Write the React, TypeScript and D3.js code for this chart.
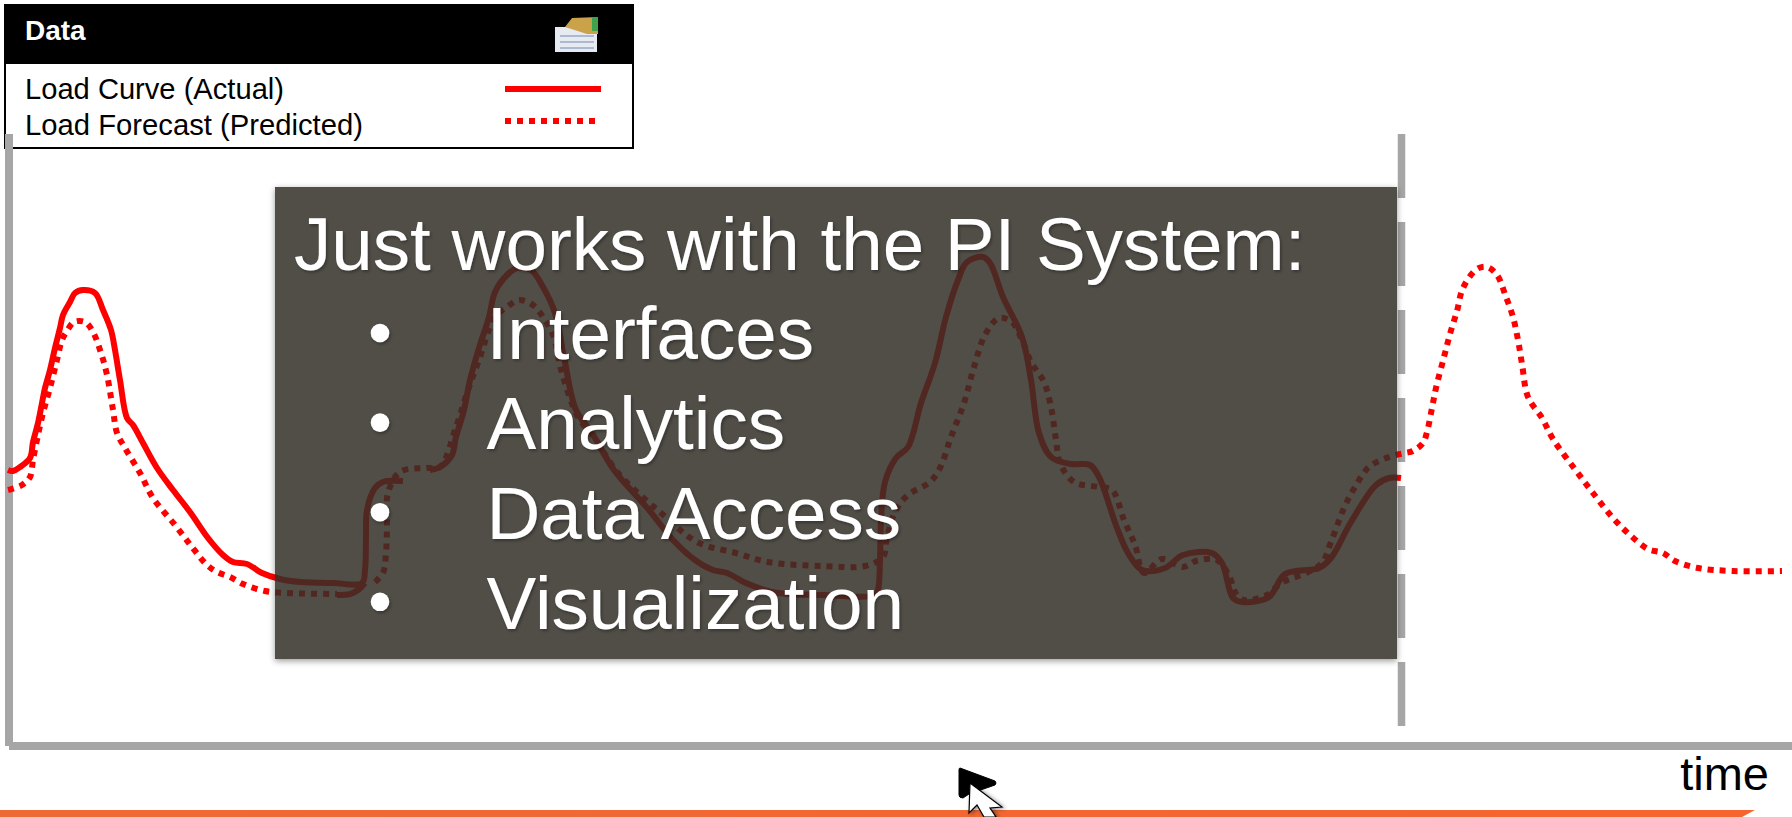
import React from "react";
import * as d3 from "d3";

const WIDTH = 1792;
const HEIGHT = 817;

// time, load — null marks a gap in the trace
type P = [number, number] | null;
const actualTime = [0,5,12,22,25,30,34,37,42,47,52,55,62,67,75,87,95,103,107,112,119,125,135,149,165,182,200,215,225,239,254,272,292,325,354,357,358,359,367,375,395,null,
  329,342,350,357,null,
  422,432,444,448,456,462,471,481,487,499,509,523,535,547,556,568,584,606,641,665,687,705,719,738,764,815,867,870,872,873,877,888,900,913,927,938,950,959,975,982,995,1014,1023,1031,1043,1063,1082,1091,1109,1120,1134,1157,1175,1204,1214,1225,1234,1261,1277,1311,1323,1343,1368,1381,1393];
const actualLoad = [272,271,275,284,300,319,339,354,372,394,414,427,440,449,452,449,432,412,392,362,324,317,299,274,252,230,204,187,180,178,169,163,160,159,159,172,205,232,254,260,261,null,
  147,148,152,159,null,
  272,275,287,305,332,362,394,425,450,467,474,472,455,429,385,332,309,272,232,202,182,172,169,159,150,147,147,152,182,222,260,284,295,339,379,425,462,480,485,479,445,405,362,309,285,278,277,265,214,189,172,174,187,189,179,144,140,145,168,174,184,220,257,264,264];
const forecastTime = [0,14,22,25,30,35,42,49,54,59,66,77,85,93,99,105,109,117,132,145,167,184,199,209,222,235,257,279,329,null,
  367,375,378,379,380,392,419,432,448,460,471,487,499,511,525,535,545,554,570,586,610,653,689,728,760,815,857,875,879,888,900,922,932,943,956,966,977,991,1004,1014,1023,1036,1043,1048,1052,1066,1091,1104,1116,1127,1136,1154,1175,1188,1209,1222,1227,1236,1259,1273,1298,1314,1323,1336,1347,1361,1381,1397,1405,1415,1419,1424,1428,1436,1442,1449,1455,1469,1479,1489,1498,1505,1510,1514,1520,1534,1545,1566,1585,1605,1622,1640,1655,1667,1690,1725,1774];
const forecastLoad = [252,257,265,282,307,329,354,382,402,411,420,420,410,389,367,332,309,294,269,244,217,195,177,170,165,158,151,149,148,null,
  160,169,189,215,249,270,274,275,315,352,382,425,435,442,437,425,407,369,325,305,269,229,200,189,180,176,176,185,205,232,247,260,274,305,339,375,407,424,420,402,380,360,335,302,279,260,255,252,222,197,169,183,175,181,182,164,150,142,147,159,169,179,200,234,255,275,285,289,291,299,310,334,354,385,408,431,454,473,475,467,445,425,402,378,345,324,303,274,249,224,207,193,189,181,174,171,171];

const legendLabels = ["Load Curve (Actual)", "Load Forecast (Predicted)"];
const panelTitle = "Just works with the PI System:";
const panelItems = ["Interfaces", "Analytics", "Data Access", "Visualization"];

const zip = (ts: (number | null)[], ls: (number | null)[]): P[] =>
  ts.map((t, i) => (t === null || ls[i] === null ? null : [t, ls[i] as number]));

const x = d3.scaleLinear().domain([0, 1784]).range([8, 1792]);
const y = d3.scaleLinear().domain([0, 608]).range([742, 134]);
const line = d3
  .line<P>()
  .defined((d) => d !== null)
  .x((d) => x((d as [number, number])[0]))
  .y((d) => y((d as [number, number])[1]))
  .curve(d3.curveCatmullRom.alpha(0.5));

const FONT = "'Liberation Sans', Arial, sans-serif";
const GREY = "#a6a6a6";
const RED = "#ff0000";

export default function App() {
  return (
    <svg
      width={WIDTH}
      height={HEIGHT}
      viewBox={`0 0 ${WIDTH} ${HEIGHT}`}
      style={{ position: "fixed", left: 0, top: 0, background: "#fff", display: "block" }}
    >
      <defs>
        <filter id="txt" x="-5%" y="-20%" width="110%" height="140%">
          <feDropShadow dx="1.5" dy="2" stdDeviation="1.5" floodColor="#000" floodOpacity="0.3" />
        </filter>
        <filter id="blur" x="-5%" y="-5%" width="110%" height="110%">
          <feGaussianBlur stdDeviation="3" />
        </filter>
        <clipPath id="outsidePanel">
          <path clipRule="evenodd" d="M0,0H1792V817H0Z M275,187H1397V659H275Z" />
        </clipPath>
        <filter id="cur" x="-30%" y="-30%" width="160%" height="160%">
          <feDropShadow dx="2" dy="1" stdDeviation="2" floodColor="#000" floodOpacity="0.45" />
        </filter>
        <linearGradient id="orange" x1="0" x2="1" y1="0" y2="0">
          <stop offset="0" stopColor="#ee6a35" />
          <stop offset="1" stopColor="#f56530" />
        </linearGradient>
      </defs>

      {/* legend box */}
      <rect x={5} y={5} width={628} height={143} fill="#fff" stroke="#000" strokeWidth={2} />
      <rect x={5} y={4} width={629} height={60} fill="#000" />
      <text x={25} y={40} fontFamily={FONT} fontWeight={700} fontSize={28} fill="#fff">Data</text>
      <g>
        <rect x={555} y={27} width={42} height={25} fill="#e6ebf2" />
        <polygon points="565,27 572,18 598,17 598,34 587,34" fill="#c9a24a" />
        <rect x={592} y={17} width={6} height={14} fill="#3fa34d" />
        <rect x={560} y={35} width={34} height={2} fill="#aeb9cf" />
        <rect x={560} y={41} width={34} height={2} fill="#aeb9cf" />
        <rect x={560} y={47} width={34} height={2} fill="#aeb9cf" />
      </g>
      <text x={25} y={99} fontFamily={FONT} fontSize={29} fill="#000" textLength={259} lengthAdjust="spacingAndGlyphs">{legendLabels[0]}</text>
      <text x={25} y={135} fontFamily={FONT} fontSize={29} fill="#000" textLength={338} lengthAdjust="spacingAndGlyphs">{legendLabels[1]}</text>
      <line x1={505} x2={601} y1={89} y2={89} stroke={RED} strokeWidth={6} />
      <line x1={505} x2={596} y1={121} y2={121} stroke={RED} strokeWidth={6} strokeDasharray="6 6" />

      {/* axes */}
      <line x1={9} x2={9} y1={134} y2={746} stroke={GREY} strokeWidth={8} />
      <line x1={9} x2={WIDTH} y1={746} y2={746} stroke={GREY} strokeWidth={8} />
      <line x1={1401.5} x2={1401.5} y1={134} y2={726} stroke={GREY} strokeWidth={7.5} strokeDasharray="64 24" />

      {/* series */}
      <path d={line(zip(actualTime, actualLoad)) ?? ""} fill="none" stroke={RED} strokeWidth={6} strokeLinejoin="round" />
      <path d={line(zip(forecastTime, forecastLoad)) ?? ""} fill="none" stroke={RED} strokeWidth={6} strokeDasharray="6 6" />

      {/* overlay panel */}
      <g clipPath="url(#outsidePanel)">
        <rect x={275} y={189} width={1122} height={472} fill="#000" fillOpacity={0.4} filter="url(#blur)" />
      </g>
      <rect x={275} y={187} width={1122} height={472} fill="rgb(51,46,39)" fillOpacity={0.85} />
      <g fontFamily={FONT} fontSize={74.6} fill="#fff" filter="url(#txt)">
        <text x={294} y={270}>{panelTitle}</text>
        {panelItems.map((label, i) => (
          <g key={label}>
            <circle cx={380} cy={333 + i * 89.6} r={9.3} />
            <text x={486.5} y={359 + i * 90}>{label}</text>
          </g>
        ))}
      </g>

      {/* axis title */}
      <text x={1769} y={790} textAnchor="end" fontFamily={FONT} fontSize={47} fill="#000">time</text>

      {/* bottom rule */}
      <polygon points={`0,810 1755,810 1742,817 0,817`} fill="url(#orange)" />

      {/* pointer */}
      <path d="M960,768 L995,781 Q997,783 995,785 L969,794 L963,798 Q959,798 959,795 L959,770 Q959,768 960,768 Z" fill="#000" stroke="#000" strokeWidth={1} strokeLinejoin="round" />
      <polygon points="970,783 1002,807 990,808 996,817 984,817 977,805 969,813" fill="#fff" stroke="#000" strokeWidth={1.2} filter="url(#cur)" />
    </svg>
  );
}
